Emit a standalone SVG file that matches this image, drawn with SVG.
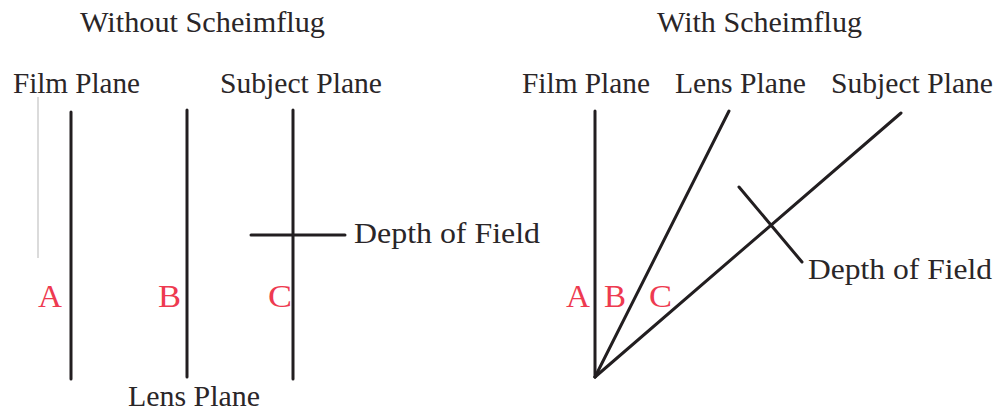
<svg xmlns="http://www.w3.org/2000/svg" width="996" height="414" viewBox="0 0 996 414">
<style>
.t{font-family:"Liberation Serif","Times New Roman",serif;font-size:29px;fill:#2a2628}
.h{font-family:"Liberation Serif","Times New Roman",serif;font-size:30px;fill:#2a2628}
.r{font-family:"Liberation Serif","Times New Roman",serif;font-size:32px;fill:#ee3a50}
.ln{stroke:#221e20;stroke-width:3;stroke-linecap:round;fill:none}
</style>
<rect width="996" height="414" fill="#fff"/>
<text class="h" x="80" y="32" textLength="245" lengthAdjust="spacingAndGlyphs">Without Scheimflug</text>
<text class="h" x="657" y="32" textLength="205" lengthAdjust="spacingAndGlyphs">With Scheimflug</text>
<g id="connectors">
<line x1="38" y1="97" x2="38" y2="258" stroke="#cfcfcf" stroke-width="1.5"/>
<line class="ln" x1="71" y1="112" x2="71" y2="379"/>
<line class="ln" x1="187" y1="110" x2="187" y2="377"/>
<line class="ln" x1="293" y1="110" x2="293" y2="379"/>
<line class="ln" x1="251" y1="235" x2="345" y2="235"/>
<line class="ln" x1="595" y1="111" x2="595" y2="377"/>
<line class="ln" x1="595" y1="377" x2="729" y2="111"/>
<line class="ln" x1="595" y1="377" x2="901" y2="113"/>
<line class="ln" x1="739" y1="187" x2="802" y2="262"/>
</g>
<g id="left-film"><text class="t" x="13" y="93" textLength="127" lengthAdjust="spacingAndGlyphs">Film Plane</text></g>
<g id="left-subject"><text class="t" x="220" y="93" textLength="162" lengthAdjust="spacingAndGlyphs">Subject Plane</text></g>
<g id="left-dof"><text class="t" x="354" y="243" textLength="186" lengthAdjust="spacingAndGlyphs">Depth of Field</text></g>
<g id="left-lens"><text class="t" x="128" y="406" textLength="132" lengthAdjust="spacingAndGlyphs">Lens Plane</text></g>
<g id="left-abc">
<text class="r" x="38" y="307" textLength="24" lengthAdjust="spacingAndGlyphs">A</text>
<text class="r" x="158" y="307" textLength="23" lengthAdjust="spacingAndGlyphs">B</text>
<text class="r" x="268" y="307" textLength="24" lengthAdjust="spacingAndGlyphs">C</text>
</g>
<g id="right-film"><text class="t" x="522" y="93" textLength="128" lengthAdjust="spacingAndGlyphs">Film Plane</text></g>
<g id="right-lens"><text class="t" x="675" y="93" textLength="131" lengthAdjust="spacingAndGlyphs">Lens Plane</text></g>
<g id="right-subject"><text class="t" x="831" y="93" textLength="162" lengthAdjust="spacingAndGlyphs">Subject Plane</text></g>
<g id="right-dof"><text class="t" x="808" y="279" textLength="184" lengthAdjust="spacingAndGlyphs">Depth of Field</text></g>
<g id="right-abc">
<text class="r" x="566" y="307" textLength="24" lengthAdjust="spacingAndGlyphs">A</text>
<text class="r" x="604" y="307" textLength="22" lengthAdjust="spacingAndGlyphs">B</text>
<text class="r" x="649" y="307" textLength="23" lengthAdjust="spacingAndGlyphs">C</text>
</g>
</svg>
